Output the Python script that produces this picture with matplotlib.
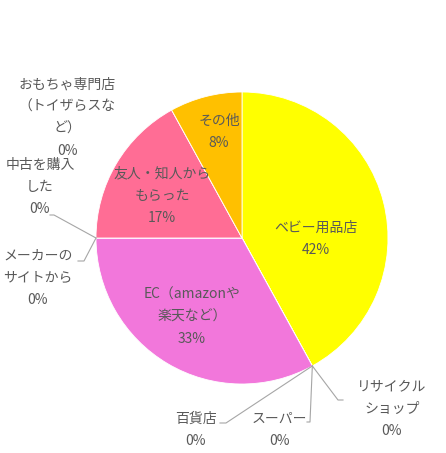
import numpy as np
import matplotlib
matplotlib.use("Agg")
import matplotlib.pyplot as plt

plt.rcParams['font.family'] = ['Noto Sans CJK JP', 'DejaVu Sans']

# clockwise from 12 o'clock
labels = ["ベビー用品店", "リサイクル\nショップ", "スーパー", "百貨店",
          "EC（amazonや\n楽天など）", "メーカーの\nサイトから", "中古を購入\nした",
          "友人・知人から\nもらった", "おもちゃ専門店\n（トイザらスな\nど）", "その他"]
values = [42, 0, 0, 0, 33, 0, 0, 17, 0, 8]
colors = ["#FFFF00", "#A5A5A5", "#4472C4", "#ED7D31", "#F277DB",
          "#5B9BD5", "#70AD47", "#FF6D95", "#264478", "#FFC000"]

txt = "#595959"
line_col = "#A6A6A6"

W, H = 446, 453
cx, cy, r = 242, 238, 146
total = float(sum(values))

fig = plt.figure(figsize=(W / 100, H / 100), dpi=100)

# pie first, so the label layer sits on top
pax = fig.add_axes([(cx - r) / W, 1 - (cy + r) / H, 2 * r / W, 2 * r / H])
wedges, _ = pax.pie(values, colors=colors, startangle=90, counterclock=False,
                    wedgeprops=dict(edgecolor="#FFFFFF", linewidth=0.6))
pax.set_aspect("auto")
pax.set_xlim(-1, 1)
pax.set_ylim(-1, 1)
pax.axis("off")

ax = fig.add_axes([0, 0, 1, 1])
ax.set_xlim(0, W)
ax.set_ylim(H, 0)
ax.patch.set_alpha(0)
ax.axis("off")

# label centers in pixels
inside = {0: (316, 239), 4: (192, 317), 7: (162, 196), 9: (219, 132)}
outside = {1: (392, 409), 2: (279, 430), 3: (196, 430),
           5: (38, 278), 6: (40, 187), 8: (67, 118)}

cum = np.cumsum([0] + values)


def edge_point(i):
    a = np.deg2rad(cum[i] / total * 360)
    return cx + r * np.sin(a), cy - r * np.cos(a)


fs = 10
for i, lab in enumerate(labels):
    s = lab + "\n" + f"{values[i] / total * 100:.0f}%"
    x, y = inside[i] if i in inside else outside[i]
    ax.text(x, y, s, ha="center", va="center", fontsize=fs, color=txt,
            linespacing=1.75)

# leader lines for the zero slices
leaders = {1: [(338, 400), (343, 400)],
           2: [(310, 422), (307, 422)],
           3: [(226, 423), (220, 423)],
           5: [(84, 261), (78, 261)],
           6: [(54, 215), (50, 215)]}
for i, pts in leaders.items():
    px, py = edge_point(i)
    xs = [px] + [p[0] for p in pts]
    ys = [py] + [p[1] for p in pts]
    ax.plot(xs, ys, color=line_col, lw=0.8)

fig.savefig("out.png", dpi=100)
